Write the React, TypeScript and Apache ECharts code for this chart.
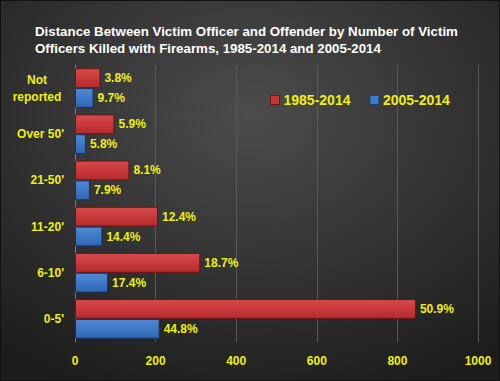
import React, { useEffect, useRef } from "react";
import * as echarts from "echarts";

const categories = ["Not reported", "Over 50'", "21-50'", "11-20'", "6-10'", "0-5'"];
const values1985 = [63, 98, 135, 206, 311, 846];
const values2005 = [46, 27, 37, 68, 82, 210];
const pct1985 = ["3.8%", "5.9%", "8.1%", "12.4%", "18.7%", "50.9%"];
const pct2005 = ["9.7%", "5.8%", "7.9%", "14.4%", "17.4%", "44.8%"];
const seriesNames = ["1985-2014", "2005-2014"];
const titleText =
  "Distance Between Victim Officer and Offender by Number of Victim\nOfficers Killed with Firearms, 1985-2014 and 2005-2014";

const FONT = "'Liberation Sans', Arial, sans-serif";
const YELLOW = "#f0f00c";

export default function App() {
  const ref = useRef<HTMLDivElement>(null);
  useEffect(() => {
    if (!ref.current) return;
    const chart = echarts.init(ref.current, null, { renderer: "svg" });
    const red = new echarts.graphic.LinearGradient(0, 0, 0, 1, [
      { offset: 0, color: "#d8494b" },
      { offset: 1, color: "#b52a2c" },
    ]);
    const blue = new echarts.graphic.LinearGradient(0, 0, 0, 1, [
      { offset: 0, color: "#4f8ad6" },
      { offset: 1, color: "#2f66b5" },
    ]);
    const labelStyle = {
      show: true,
      position: "right" as const,
      distance: 4,
      color: YELLOW,
      fontWeight: "bold" as const,
      fontSize: 12,
      fontFamily: FONT,
    };
    chart.setOption({
      animation: false,
      backgroundColor: new echarts.graphic.RadialGradient(0.5, 0.3, 0.8, [
        { offset: 0, color: "#4c4c4c" },
        { offset: 1, color: "#1c1c1c" },
      ]),
      title: {
        text: titleText,
        left: 29,
        top: 17,
        textStyle: {
          color: "#ffffff",
          fontWeight: "bold",
          fontSize: 13.3,
          lineHeight: 17,
          fontFamily: FONT,
        },
      },
      legend: {
        top: 87,
        left: 264,
        itemWidth: 9,
        itemHeight: 9,
        itemGap: 19,
        icon: "rect",
        textStyle: {
          color: YELLOW,
          fontWeight: "bold",
          fontSize: 14,
          fontFamily: FONT,
          padding: [0, 0, 0, -1],
        },
        data: [
          { name: seriesNames[0], itemStyle: { color: "#c93537", borderColor: "#6a1516", borderWidth: 1 } },
          { name: seriesNames[1], itemStyle: { color: "#3f7bcc", borderColor: "#1b3f70", borderWidth: 1 } },
        ],
      },
      grid: { left: 74, right: 21, top: 64, bottom: 38 },
      xAxis: {
        type: "value",
        min: 0,
        max: 1000,
        interval: 200,
        axisLine: { show: false },
        axisTick: { show: false },
        splitLine: { show: true, lineStyle: { color: "#585858", width: 1 } },
        axisLabel: {
          color: YELLOW,
          fontWeight: "bold",
          fontSize: 12,
          fontFamily: FONT,
          margin: 13,
          formatter: (v: number) => String(v),
        },
      },
      yAxis: {
        type: "category",
        inverse: true,
        data: categories,
        axisLine: { show: true, lineStyle: { color: "#7a7a7a", width: 1 } },
        axisTick: { show: false },
        axisLabel: {
          color: YELLOW,
          fontWeight: "bold",
          fontSize: 12,
          fontFamily: FONT,
          margin: 11,
          lineHeight: 17,
          formatter: (v: string) => {
            if (v === "Not reported") return "{c|Not}\n{c|reported}";
            return v;
          },
          rich: {
            c: {
              width: 54,
              align: "center",
              color: YELLOW,
              fontWeight: "bold",
              fontSize: 12,
              fontFamily: FONT,
              lineHeight: 17,
            },
          },
        },
      },
      series: [
        {
          name: seriesNames[0],
          type: "bar",
          data: values1985,
          barGap: "0%",
          barCategoryGap: "14%",
          itemStyle: {
            color: red,
            borderColor: "#6a1516",
            borderWidth: 1,
          },
          label: { ...labelStyle, formatter: (p: any) => pct1985[p.dataIndex] },
        },
        {
          name: seriesNames[1],
          type: "bar",
          data: values2005,
          barGap: "0%",
          barCategoryGap: "14%",
          itemStyle: {
            color: blue,
            borderColor: "#16345e",
            borderWidth: 1,
          },
          label: { ...labelStyle, formatter: (p: any) => pct2005[p.dataIndex] },
        },
      ],
    });
    return () => chart.dispose();
  }, []);
  return (
    <div
      style={{
        position: "fixed",
        left: 0,
        top: 0,
        width: 500,
        height: 381,
        boxSizing: "border-box",
        border: "1px solid #111",
        background: "#222",
      }}
    >
      <div ref={ref} style={{ width: 498, height: 379 }} />
    </div>
  );
}
